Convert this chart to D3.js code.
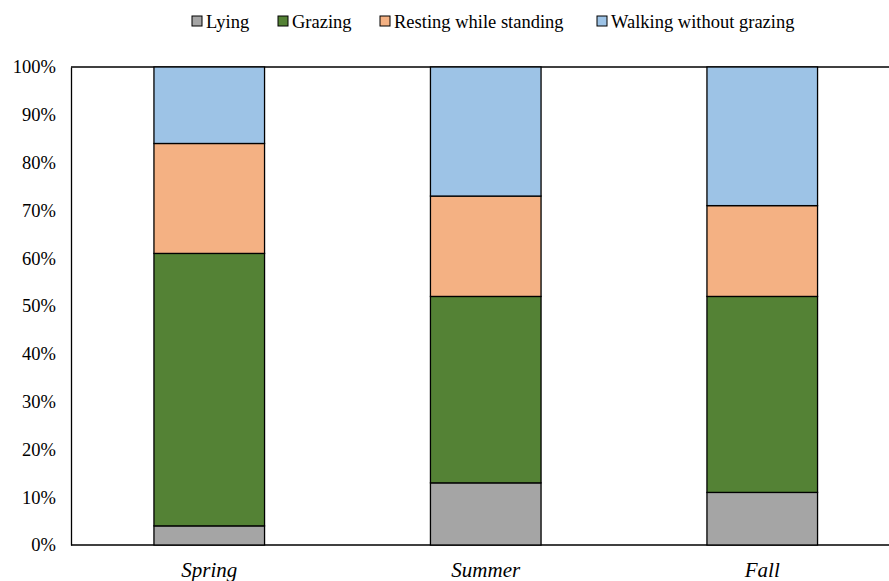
<!DOCTYPE html>
<html><head><meta charset="utf-8">
<script src="https://cdn.jsdelivr.net/npm/d3@7"></script>
<style>body{margin:0;background:#fff}svg{display:block}
svg text{fill:#000}</style>
</head><body>
<svg id="c" width="889" height="581"></svg>
<script>
const seasons = ["Spring", "Summer", "Fall"];
const seriesNames = ["Lying", "Grazing", "Resting while standing", "Walking without grazing"];
const lying = [4, 13, 11];
const grazing = [57, 39, 41];
const resting = [23, 21, 19];
const walking = [16, 27, 29];
const yTicks = [0, 10, 20, 30, 40, 50, 60, 70, 80, 90, 100];
const colors = ["#a5a5a5", "#548235", "#f4b183", "#9dc3e6"];

const FONT = '"Liberation Serif", "Times New Roman", serif';
const svg = d3.select("#c");
const L = 71, R = 900.5, T = 67, B = 545;
const x = d3.scaleBand().domain(seasons).range([L, R]).paddingInner(0.6).paddingOuter(0.3);
const y = d3.scaleLinear().domain([0, 100]).range([B, T]);

const rows = seasons.map((s, i) => ({season: s, Lying: lying[i], Grazing: grazing[i], "Resting while standing": resting[i], "Walking without grazing": walking[i]}));
const stacked = d3.stack().keys(seriesNames)(rows);

svg.append("line").attr("x1", L).attr("x2", 889).attr("y1", T).attr("y2", T).attr("stroke", "#000").attr("stroke-width", 1.3);
svg.append("line").attr("x1", L).attr("x2", 889).attr("y1", B).attr("y2", B).attr("stroke", "#000").attr("stroke-width", 1.3);

const yAxis = d3.axisLeft(y).tickValues(yTicks).tickFormat(d => d + "%").tickSize(0).tickPadding(15);
const ga = svg.append("g").attr("transform", `translate(${L},0)`).call(yAxis);
ga.attr("font-family", null);
ga.select(".domain").attr("stroke", "#000").attr("stroke-width", 1.3);
ga.selectAll("text").style("font-family", FONT).style("font-size", "18.5px");

svg.append("g").selectAll("g").data(stacked).join("g")
  .attr("fill", (d, i) => colors[i])
  .selectAll("rect").data(d => d).join("rect")
  .attr("x", d => x(d.data.season))
  .attr("width", x.bandwidth())
  .attr("y", d => y(d[1]))
  .attr("height", d => y(d[0]) - y(d[1]))
  .attr("stroke", "#000").attr("stroke-width", 1.3);

svg.append("g").selectAll("text").data(seasons).join("text")
  .attr("x", d => x(d) + x.bandwidth() / 2)
  .attr("y", 577)
  .attr("text-anchor", "middle")
  .style("font-family", FONT)
  .style("font-style", "italic")
  .style("font-size", "21px")
  .text(d => d);

const legX = [192, 278, 380, 597];
const lg = svg.append("g").selectAll("g").data(seriesNames).join("g")
  .attr("transform", (d, i) => `translate(${legX[i]},0)`);
lg.append("rect").attr("x", 0).attr("y", 16).attr("width", 10).attr("height", 10)
  .attr("fill", (d, i) => colors[i]).attr("stroke", "#000").attr("stroke-width", 1);
lg.append("text").attr("x", 14).attr("y", 28)
  .style("font-family", FONT)
  .style("font-size", "18.5px")
  .text(d => d);
</script>
</body></html>
